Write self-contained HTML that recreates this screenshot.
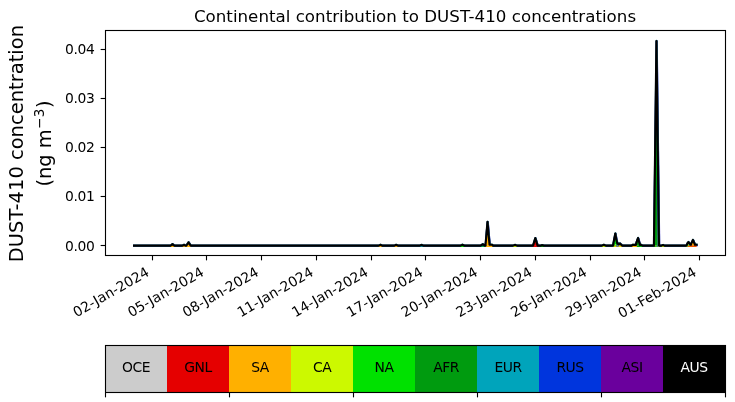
<!DOCTYPE html>
<html><head><meta charset="utf-8"><title>Continental contribution to DUST-410 concentrations</title>
<style>html,body{margin:0;padding:0;background:#fff}svg text{white-space:pre}</style></head>
<body>
<svg width="735" height="402" viewBox="0 0 735 402" style="display:block">
<rect width="735" height="402" fill="#fff"/>
<g font-family="'DejaVu Sans', 'Liberation Sans', sans-serif" fill="#000">
<text x="415.00" y="22.0" font-size="16.67" text-anchor="middle" textLength="442.2" lengthAdjust="spacing">Continental contribution to DUST-410 concentrations</text>
<text transform="translate(23.4,143.60) rotate(-90)" font-size="19.44" text-anchor="middle" textLength="237.15" lengthAdjust="spacing">DUST-410 concentration</text>
<text transform="translate(51.0,143.50) rotate(-90)" font-size="19.44" text-anchor="middle">(ng m<tspan font-size="13.6" dy="-7.5" dx="0.3">−</tspan><tspan font-size="13.6" dx="0.3">3</tspan><tspan dy="7.5" dx="0.5">)</tspan></text>
<g><polyline points="134.05,245.65 170.60,245.65 170.82,245.48 171.11,245.25 171.39,245.03 171.68,244.80 171.96,244.58 172.25,244.35 172.50,244.15 172.53,244.18 172.82,244.40 173.10,244.63 173.39,244.85 173.67,245.08 173.96,245.30 174.24,245.53 174.40,245.65 182.40,245.65 182.51,245.60 182.79,245.45 183.08,245.31 183.36,245.17 183.65,245.03 183.93,244.88 184.00,244.85 184.22,244.96 184.50,245.10 184.79,245.24 185.07,245.39 185.36,245.53 185.60,245.65 186.30,245.65 186.50,245.35 186.78,244.92 187.07,244.50 187.35,244.07 187.64,243.64 187.92,243.21 188.21,242.79 188.49,242.36 188.50,242.35 188.78,242.77 189.06,243.20 189.35,243.62 189.63,244.05 189.92,244.48 190.20,244.91 190.49,245.34 190.70,245.65 378.60,245.65 378.62,245.64 378.91,245.51 379.19,245.39 379.48,245.26 379.76,245.13 380.05,245.01 380.33,244.88 380.40,244.85 380.62,244.95 380.90,245.07 381.19,245.20 381.47,245.33 381.76,245.45 382.04,245.58 382.20,245.65 394.30,245.65 394.58,245.52 394.87,245.40 395.15,245.27 395.44,245.14 395.72,245.02 396.01,244.89 396.10,244.85 396.29,244.94 396.58,245.06 396.86,245.19 397.15,245.32 397.43,245.44 397.72,245.57 397.90,245.65 419.70,245.65 419.95,245.55 420.24,245.44 420.52,245.33 420.81,245.22 421.09,245.11 421.38,245.00 421.50,244.95 421.66,245.01 421.95,245.12 422.23,245.24 422.52,245.35 422.80,245.46 423.09,245.57 423.30,245.65 460.40,245.65 460.43,245.64 460.71,245.51 461.00,245.38 461.29,245.25 461.57,245.12 461.86,245.00 462.14,244.87 462.40,244.75 462.43,244.76 462.71,244.89 463.00,245.02 463.28,245.15 463.57,245.27 463.85,245.40 464.14,245.53 464.40,245.65 480.50,245.65 480.67,245.54 480.95,245.36 481.24,245.18 481.52,245.00 481.81,244.82 482.09,244.64 482.38,244.45 482.66,244.27 482.70,244.25 482.95,244.41 483.23,244.59 483.52,244.77 483.80,244.95 484.09,245.13 484.37,245.32 484.66,245.50 484.90,245.65 485.45,245.65 485.51,244.91 485.80,241.60 486.08,238.29 486.37,234.97 486.65,231.66 486.94,228.35 487.23,225.04 487.50,221.85 487.51,221.97 487.80,225.27 488.08,228.58 488.37,231.89 488.50,233.46 488.65,235.07 488.94,238.12 489.22,241.17 489.50,244.17 489.50,244.23 489.55,244.75 492.00,244.75 492.07,244.81 492.36,245.07 492.64,245.33 492.93,245.58 493.00,245.65 513.00,245.65 513.16,245.59 513.45,245.49 513.73,245.39 514.02,245.29 514.30,245.19 514.59,245.09 514.87,244.99 515.00,244.95 515.16,245.01 515.44,245.11 515.73,245.21 516.01,245.31 516.30,245.41 516.59,245.50 516.87,245.60 517.00,245.65 533.00,245.65 533.12,245.27 533.40,244.34 533.69,243.41 533.97,242.48 534.26,241.55 534.54,240.62 534.83,239.69 535.11,238.76 535.30,238.15 535.40,238.47 535.68,239.40 535.97,240.33 536.25,241.26 536.54,242.19 536.82,243.12 537.11,244.05 537.39,244.98 537.60,245.65 540.40,245.65 540.53,245.61 540.81,245.54 541.10,245.46 541.38,245.38 541.67,245.30 541.95,245.22 542.20,245.15 542.24,245.16 542.52,245.24 542.81,245.32 543.09,245.40 543.38,245.48 543.66,245.56 543.95,245.64 544.00,245.65 601.80,245.65 601.81,245.64 602.10,245.53 602.38,245.42 602.67,245.30 602.95,245.19 603.24,245.07 603.52,244.96 603.80,244.85 603.81,244.85 604.09,244.97 604.38,245.08 604.66,245.20 604.95,245.31 605.24,245.42 605.52,245.54 605.80,245.65 613.00,245.65 613.22,244.56 613.30,244.14 613.50,243.00 613.79,241.38 614.07,239.77 614.10,239.60 614.36,238.31 614.64,236.87 614.93,235.44 615.21,234.00 615.30,233.55 615.50,234.69 615.78,236.34 616.07,237.99 616.30,239.35 616.35,239.57 616.64,240.79 616.92,242.00 617.21,243.22 617.30,243.61 617.49,243.32 617.60,243.15 617.78,243.42 618.00,243.77 618.06,243.81 618.35,243.99 618.63,244.17 618.90,244.34 618.92,244.33 619.20,244.07 619.49,243.82 619.77,243.56 619.90,243.45 620.06,243.59 620.34,243.85 620.63,244.10 620.91,244.36 621.20,244.61 621.48,244.87 621.50,244.88 621.77,245.29 621.80,245.34 622.05,245.50 622.30,245.65 631.60,245.65 631.74,245.53 632.03,245.31 632.31,245.08 632.60,244.85 632.60,244.85 635.80,244.85 636.02,244.09 636.30,243.11 636.59,242.12 636.80,241.40 636.88,241.20 637.16,240.44 637.45,239.68 637.73,238.93 637.80,238.74 638.00,238.05 638.01,238.10 638.30,239.09 638.59,240.07 638.87,241.06 639.15,242.04 639.20,242.20 639.44,242.89 639.73,243.71 640.01,244.54 640.20,245.09 640.30,245.03 640.58,244.87 640.80,244.75 640.87,244.79 641.15,244.95 641.44,245.11 641.72,245.27 642.01,245.43 642.29,245.59 642.40,245.65 653.90,245.65 653.95,242.11 653.98,240.13 654.26,219.94 654.55,196.71 654.60,192.45 654.83,173.39 655.12,150.06 655.40,126.74 655.60,110.61 655.69,103.41 655.97,80.09 656.26,56.76 656.30,53.33 656.45,41.05 656.54,48.66 656.83,71.99 657.11,95.31 657.40,118.63 657.68,141.96 657.80,151.53 657.97,165.28 658.20,184.27 658.25,188.69 658.54,212.01 658.82,235.34 658.95,245.53 659.11,245.60 659.20,245.65 661.50,245.65 661.67,245.58 661.96,245.47 662.24,245.35 662.53,245.24 662.81,245.12 663.00,245.05 663.10,245.09 663.38,245.20 663.67,245.32 663.96,245.43 664.24,245.55 664.50,245.65 686.30,245.65 686.47,245.43 686.50,245.39 686.76,244.83 687.04,244.21 687.33,243.58 687.50,243.21 687.61,243.06 687.90,242.69 688.18,242.33 688.40,242.05 688.47,242.14 688.75,242.51 689.04,242.87 689.32,243.24 689.61,243.60 689.89,243.97 690.18,244.34 690.46,244.70 690.50,244.75 690.80,244.75 691.03,244.22 691.32,243.56 691.60,242.91 691.89,242.26 692.17,241.61 692.46,240.96 692.74,240.31 692.90,239.95 693.03,240.24 693.31,240.90 693.60,241.55 693.88,242.20 694.17,242.85 694.46,243.50 694.74,244.16 695.00,244.75 696.45,244.75" fill="none" stroke="#3010d0" stroke-width="2.2" stroke-linejoin="round" stroke-linecap="square" transform="translate(0.25,0.3)"/>
<polyline points="134.05,245.65 170.60,245.65 170.82,245.48 171.11,245.25 171.39,245.03 171.68,244.80 171.96,244.58 172.25,244.35 172.50,244.15 172.53,244.18 172.82,244.40 173.10,244.63 173.39,244.85 173.67,245.08 173.96,245.30 174.24,245.53 174.40,245.65 182.40,245.65 182.51,245.60 182.79,245.45 183.08,245.31 183.36,245.17 183.65,245.03 183.93,244.88 184.00,244.85 184.22,244.96 184.50,245.10 184.79,245.24 185.07,245.39 185.36,245.53 185.60,245.65 186.30,245.65 186.50,245.35 186.78,244.92 187.07,244.50 187.35,244.07 187.64,243.64 187.92,243.21 188.21,242.79 188.49,242.36 188.50,242.35 188.78,242.77 189.06,243.20 189.35,243.62 189.63,244.05 189.92,244.48 190.20,244.91 190.49,245.34 190.70,245.65 378.60,245.65 378.62,245.64 378.91,245.51 379.19,245.39 379.48,245.26 379.76,245.13 380.05,245.01 380.33,244.88 380.40,244.85 380.62,244.95 380.90,245.07 381.19,245.20 381.47,245.33 381.76,245.45 382.04,245.58 382.20,245.65 394.30,245.65 394.58,245.52 394.87,245.40 395.15,245.27 395.44,245.14 395.72,245.02 396.01,244.89 396.10,244.85 396.29,244.94 396.58,245.06 396.86,245.19 397.15,245.32 397.43,245.44 397.72,245.57 397.90,245.65 419.70,245.65 419.95,245.55 420.24,245.44 420.52,245.33 420.81,245.22 421.09,245.11 421.38,245.00 421.50,244.95 421.66,245.01 421.95,245.12 422.23,245.24 422.52,245.35 422.80,245.46 423.09,245.57 423.30,245.65 460.40,245.65 460.43,245.64 460.71,245.51 461.00,245.38 461.29,245.25 461.57,245.12 461.86,245.00 462.14,244.87 462.40,244.75 462.43,244.76 462.71,244.89 463.00,245.02 463.28,245.15 463.57,245.27 463.85,245.40 464.14,245.53 464.40,245.65 480.50,245.65 480.67,245.54 480.95,245.36 481.24,245.18 481.52,245.00 481.81,244.82 482.09,244.64 482.38,244.45 482.66,244.27 482.70,244.25 482.95,244.41 483.23,244.59 483.52,244.77 483.80,244.95 484.09,245.13 484.37,245.32 484.66,245.50 484.90,245.65 485.45,245.65 485.51,244.91 485.80,241.60 486.08,238.29 486.37,234.97 486.65,231.66 486.94,228.35 487.23,225.04 487.50,221.85 487.51,221.97 487.80,225.27 488.08,228.58 488.37,231.89 488.50,233.46 488.65,235.07 488.94,238.12 489.22,241.17 489.50,244.17 489.50,244.23 489.55,244.75 492.00,244.75 492.07,244.81 492.36,245.07 492.64,245.33 492.93,245.58 493.00,245.65 513.00,245.65 513.16,245.59 513.45,245.49 513.73,245.39 514.02,245.29 514.30,245.19 514.59,245.09 514.87,244.99 515.00,244.95 515.16,245.01 515.44,245.11 515.73,245.21 516.01,245.31 516.30,245.41 516.59,245.50 516.87,245.60 517.00,245.65 533.00,245.65 533.12,245.27 533.40,244.34 533.69,243.41 533.97,242.48 534.26,241.55 534.54,240.62 534.83,239.69 535.11,238.76 535.30,238.15 535.40,238.47 535.68,239.40 535.97,240.33 536.25,241.26 536.54,242.19 536.82,243.12 537.11,244.05 537.39,244.98 537.60,245.65 540.40,245.65 540.53,245.61 540.81,245.54 541.10,245.46 541.38,245.38 541.67,245.30 541.95,245.22 542.20,245.15 542.24,245.16 542.52,245.24 542.81,245.32 543.09,245.40 543.38,245.48 543.66,245.56 543.95,245.64 544.00,245.65 601.80,245.65 601.81,245.64 602.10,245.53 602.38,245.42 602.67,245.30 602.95,245.19 603.24,245.07 603.52,244.96 603.80,244.85 603.81,244.85 604.09,244.97 604.38,245.08 604.66,245.20 604.95,245.31 605.24,245.42 605.52,245.54 605.80,245.65 613.00,245.65 613.22,244.56 613.30,244.14 613.50,243.00 613.79,241.38 614.07,239.77 614.10,239.60 614.36,238.31 614.64,236.87 614.93,235.44 615.21,234.00 615.30,233.55 615.50,234.69 615.78,236.34 616.07,237.99 616.30,239.35 616.35,239.57 616.64,240.79 616.92,242.00 617.21,243.22 617.30,243.61 617.49,243.32 617.60,243.15 617.78,243.42 618.00,243.77 618.06,243.81 618.35,243.99 618.63,244.17 618.90,244.34 618.92,244.33 619.20,244.07 619.49,243.82 619.77,243.56 619.90,243.45 620.06,243.59 620.34,243.85 620.63,244.10 620.91,244.36 621.20,244.61 621.48,244.87 621.50,244.88 621.77,245.29 621.80,245.34 622.05,245.50 622.30,245.65 631.60,245.65 631.74,245.53 632.03,245.31 632.31,245.08 632.60,244.85 632.60,244.85 635.80,244.85 636.02,244.09 636.30,243.11 636.59,242.12 636.80,241.40 636.88,241.20 637.16,240.44 637.45,239.68 637.73,238.93 637.80,238.74 638.00,238.05 638.01,238.10 638.30,239.09 638.59,240.07 638.87,241.06 639.15,242.04 639.20,242.20 639.44,242.89 639.73,243.71 640.01,244.54 640.20,245.09 640.30,245.03 640.58,244.87 640.80,244.75 640.87,244.79 641.15,244.95 641.44,245.11 641.72,245.27 642.01,245.43 642.29,245.59 642.40,245.65 653.90,245.65 653.95,242.11 653.98,240.13 654.26,219.94 654.55,196.71 654.60,192.45 654.83,173.39 655.12,150.06 655.40,126.74 655.60,110.61 655.69,103.41 655.97,80.09 656.26,56.76 656.30,53.33 656.45,41.05 656.54,48.66 656.83,71.99 657.11,95.31 657.40,118.63 657.68,141.96 657.80,151.53 657.97,165.28 658.20,184.27 658.25,188.69 658.54,212.01 658.82,235.34 658.95,245.53 659.11,245.60 659.20,245.65 661.50,245.65 661.67,245.58 661.96,245.47 662.24,245.35 662.53,245.24 662.81,245.12 663.00,245.05 663.10,245.09 663.38,245.20 663.67,245.32 663.96,245.43 664.24,245.55 664.50,245.65 686.30,245.65 686.47,245.43 686.50,245.39 686.76,244.83 687.04,244.21 687.33,243.58 687.50,243.21 687.61,243.06 687.90,242.69 688.18,242.33 688.40,242.05 688.47,242.14 688.75,242.51 689.04,242.87 689.32,243.24 689.61,243.60 689.89,243.97 690.18,244.34 690.46,244.70 690.50,244.75 690.80,244.75 691.03,244.22 691.32,243.56 691.60,242.91 691.89,242.26 692.17,241.61 692.46,240.96 692.74,240.31 692.90,239.95 693.03,240.24 693.31,240.90 693.60,241.55 693.88,242.20 694.17,242.85 694.46,243.50 694.74,244.16 695.00,244.75 696.45,244.75" fill="none" stroke="#28808c" stroke-width="2.2" stroke-linejoin="round" stroke-linecap="square" transform="translate(0.15,-0.12)"/>
<polygon points="533.00,245.65 533.12,245.27 533.40,244.34 533.69,243.41 533.97,242.48 534.26,241.55 534.54,240.62 534.83,239.69 535.11,238.76 535.30,238.15 535.40,238.47 535.68,239.40 535.97,240.33 536.25,241.26 536.54,242.19 536.82,243.12 537.11,244.05 537.39,244.98 537.60,245.65 537.60,245.65 537.39,245.65 537.11,245.65 536.82,245.65 536.54,245.65 536.25,245.65 535.97,245.65 535.68,245.65 535.40,245.65 535.30,245.65 535.11,245.65 534.83,245.65 534.54,245.65 534.26,245.65 533.97,245.65 533.69,245.65 533.40,245.65 533.12,245.65 533.00,245.65" fill="#e50000"/>
<polygon points="686.50,245.65 686.76,245.55 687.04,245.43 687.33,245.32 687.50,245.25 687.61,245.25 687.90,245.25 688.18,245.25 688.40,245.25 688.47,245.25 688.75,245.25 689.04,245.25 689.32,245.25 689.61,245.25 689.89,245.25 690.18,245.25 690.46,245.25 690.50,245.25 690.75,245.25 690.80,245.25 691.03,245.25 691.32,245.25 691.60,245.25 691.89,245.25 692.17,245.25 692.46,245.25 692.74,245.25 692.90,245.25 693.03,245.25 693.31,245.25 693.60,245.25 693.88,245.25 694.17,245.25 694.46,245.25 694.74,245.25 695.00,245.25 695.02,245.25 695.31,245.25 695.60,245.25 695.88,245.25 696.16,245.25 696.45,245.25 696.45,245.65 696.16,245.65 695.88,245.65 695.60,245.65 695.31,245.65 695.02,245.65 695.00,245.65 694.74,245.65 694.46,245.65 694.17,245.65 693.88,245.65 693.60,245.65 693.31,245.65 693.03,245.65 692.90,245.65 692.74,245.65 692.46,245.65 692.17,245.65 691.89,245.65 691.60,245.65 691.32,245.65 691.03,245.65 690.80,245.65 690.75,245.65 690.50,245.65 690.46,245.65 690.18,245.65 689.89,245.65 689.61,245.65 689.32,245.65 689.04,245.65 688.75,245.65 688.47,245.65 688.40,245.65 688.18,245.65 687.90,245.65 687.61,245.65 687.50,245.65 687.33,245.65 687.04,245.65 686.76,245.65 686.50,245.65" fill="#e50000"/>
<polygon points="186.30,245.65 186.50,245.35 186.78,244.92 187.07,244.50 187.35,244.07 187.64,243.64 187.92,243.21 188.21,242.79 188.49,242.36 188.50,242.35 188.78,242.77 189.06,243.20 189.35,243.62 189.63,244.05 189.92,244.48 190.20,244.91 190.49,245.34 190.70,245.65 190.70,245.65 190.49,245.65 190.20,245.65 189.92,245.65 189.63,245.65 189.35,245.65 189.06,245.65 188.78,245.65 188.50,245.65 188.49,245.65 188.21,245.65 187.92,245.65 187.64,245.65 187.35,245.65 187.07,245.65 186.78,245.65 186.50,245.65 186.30,245.65" fill="#ffb000"/>
<polygon points="485.45,245.65 485.51,245.21 485.80,243.27 486.08,241.32 486.37,239.37 486.65,237.42 486.94,235.47 487.23,233.53 487.50,231.65 487.51,231.72 487.80,233.66 488.08,235.61 488.37,237.56 488.50,238.48 488.65,239.37 488.94,241.06 489.22,242.75 489.50,244.41 489.50,244.44 489.55,244.75 489.79,244.75 490.07,244.75 490.36,244.75 490.64,244.75 490.93,244.75 491.21,244.75 491.50,244.75 491.79,244.75 492.00,244.75 492.07,244.81 492.36,245.07 492.64,245.33 492.93,245.58 493.00,245.65 493.00,245.65 492.93,245.65 492.64,245.65 492.36,245.65 492.07,245.65 492.00,245.65 491.79,245.65 491.50,245.65 491.21,245.65 490.93,245.65 490.64,245.65 490.36,245.65 490.07,245.65 489.79,245.65 489.55,245.65 489.50,245.65 489.50,245.65 489.22,245.65 488.94,245.65 488.65,245.65 488.50,245.65 488.37,245.65 488.08,245.65 487.80,245.65 487.51,245.65 487.50,245.65 487.23,245.65 486.94,245.65 486.65,245.65 486.37,245.65 486.08,245.65 485.80,245.65 485.51,245.65 485.45,245.65" fill="#ffb000"/>
<polygon points="613.00,245.65 613.22,245.62 613.30,245.61 613.50,245.46 613.79,245.24 614.07,245.03 614.10,245.01 614.36,244.97 614.64,244.94 614.93,244.90 615.21,244.86 615.30,244.85 615.50,244.88 615.78,244.92 616.07,244.96 616.30,245.00 616.35,245.01 616.64,245.05 616.92,245.09 617.21,245.14 617.30,245.15 617.49,245.15 617.60,245.15 617.78,245.15 618.00,245.15 618.06,245.15 618.35,245.15 618.63,245.15 618.90,245.15 618.92,245.15 619.20,245.15 619.49,245.15 619.77,245.15 619.90,245.15 620.06,245.15 620.34,245.15 620.63,245.15 620.91,245.15 621.20,245.15 621.48,245.15 621.50,245.15 621.77,245.32 621.80,245.34 622.05,245.50 622.30,245.65 622.30,245.65 622.05,245.65 621.80,245.65 621.77,245.65 621.50,245.65 621.48,245.65 621.20,245.65 620.91,245.65 620.63,245.65 620.34,245.65 620.06,245.65 619.90,245.65 619.77,245.65 619.49,245.65 619.20,245.65 618.92,245.65 618.90,245.65 618.63,245.65 618.35,245.65 618.06,245.65 618.00,245.65 617.78,245.65 617.60,245.65 617.49,245.65 617.30,245.65 617.21,245.65 616.92,245.65 616.64,245.65 616.35,245.65 616.30,245.65 616.07,245.65 615.78,245.65 615.50,245.65 615.30,245.65 615.21,245.65 614.93,245.65 614.64,245.65 614.36,245.65 614.10,245.65 614.07,245.65 613.79,245.65 613.50,245.65 613.30,245.65 613.22,245.65 613.00,245.65" fill="#ffb000"/>
<polygon points="631.60,245.65 631.74,245.53 632.03,245.31 632.31,245.08 632.60,244.85 632.60,244.85 632.88,244.85 633.17,244.85 633.45,244.85 633.74,244.85 634.02,244.85 634.31,244.85 634.60,244.85 634.88,244.85 635.16,244.85 635.45,244.85 635.74,244.85 635.80,244.85 636.02,244.85 636.30,244.85 636.59,244.85 636.80,244.85 636.88,244.91 637.16,245.14 637.45,245.37 637.73,245.59 637.80,245.65 637.80,245.65 637.73,245.65 637.45,245.65 637.16,245.65 636.88,245.65 636.80,245.65 636.59,245.65 636.30,245.65 636.02,245.65 635.80,245.65 635.74,245.65 635.45,245.65 635.16,245.65 634.88,245.65 634.60,245.65 634.31,245.65 634.02,245.65 633.74,245.65 633.45,245.65 633.17,245.65 632.88,245.65 632.60,245.65 632.60,245.65 632.31,245.65 632.03,245.65 631.74,245.65 631.60,245.65" fill="#ffb000"/>
<polygon points="686.50,245.65 686.76,245.42 687.04,245.16 687.33,244.90 687.50,244.75 687.61,244.75 687.90,244.75 688.18,244.75 688.40,244.75 688.47,244.75 688.75,244.75 689.04,244.75 689.32,244.75 689.61,244.75 689.89,244.75 690.18,244.75 690.46,244.75 690.50,244.75 690.75,244.75 690.80,244.75 691.03,244.37 691.32,243.91 691.60,243.45 691.89,242.99 692.17,242.53 692.46,242.06 692.74,241.60 692.90,241.35 693.03,241.56 693.31,242.02 693.60,242.48 693.88,242.94 694.17,243.41 694.46,243.87 694.74,244.33 695.00,244.75 695.02,244.75 695.31,244.75 695.60,244.75 695.88,244.75 696.16,244.75 696.45,244.75 696.45,245.25 696.16,245.25 695.88,245.25 695.60,245.25 695.31,245.25 695.02,245.25 695.00,245.25 694.74,245.25 694.46,245.25 694.17,245.25 693.88,245.25 693.60,245.25 693.31,245.25 693.03,245.25 692.90,245.25 692.74,245.25 692.46,245.25 692.17,245.25 691.89,245.25 691.60,245.25 691.32,245.25 691.03,245.25 690.80,245.25 690.75,245.25 690.50,245.25 690.46,245.25 690.18,245.25 689.89,245.25 689.61,245.25 689.32,245.25 689.04,245.25 688.75,245.25 688.47,245.25 688.40,245.25 688.18,245.25 687.90,245.25 687.61,245.25 687.50,245.25 687.33,245.32 687.04,245.43 686.76,245.55 686.50,245.65" fill="#ffb000"/>
<polygon points="613.00,245.65 613.22,245.57 613.30,245.55 613.50,245.35 613.79,245.07 614.07,244.80 614.10,244.77 614.36,244.68 614.64,244.58 614.93,244.48 615.21,244.38 615.30,244.35 615.50,244.43 615.78,244.54 616.07,244.66 616.30,244.75 616.35,244.77 616.64,244.88 616.92,245.00 617.21,245.11 617.30,245.15 617.30,245.15 617.21,245.14 616.92,245.09 616.64,245.05 616.35,245.01 616.30,245.00 616.07,244.96 615.78,244.92 615.50,244.88 615.30,244.85 615.21,244.86 614.93,244.90 614.64,244.94 614.36,244.97 614.10,245.01 614.07,245.03 613.79,245.24 613.50,245.46 613.30,245.61 613.22,245.62 613.00,245.65" fill="#ccf900"/>
<polygon points="654.60,245.65 654.83,245.53 655.12,245.39 655.40,245.25 655.60,245.15 655.69,245.15 655.97,245.15 656.26,245.15 656.30,245.15 656.45,245.15 656.54,245.15 656.83,245.15 657.11,245.15 657.40,245.15 657.68,245.15 657.80,245.15 657.97,245.15 658.20,245.15 658.25,245.18 658.54,245.32 658.82,245.46 658.95,245.53 659.11,245.60 659.20,245.65 659.20,245.65 659.11,245.65 658.95,245.65 658.82,245.65 658.54,245.65 658.25,245.65 658.20,245.65 657.97,245.65 657.80,245.65 657.68,245.65 657.40,245.65 657.11,245.65 656.83,245.65 656.54,245.65 656.45,245.65 656.30,245.65 656.26,245.65 655.97,245.65 655.69,245.65 655.60,245.65 655.40,245.65 655.12,245.65 654.83,245.65 654.60,245.65" fill="#ccf900"/>
<polygon points="686.30,245.65 686.47,245.60 686.50,245.59 686.76,245.29 687.04,244.95 687.33,244.61 687.50,244.41 687.61,244.37 687.90,244.29 688.18,244.21 688.40,244.15 688.47,244.17 688.75,244.25 689.04,244.33 689.32,244.41 689.61,244.50 689.89,244.58 690.18,244.66 690.46,244.74 690.50,244.75 690.50,244.75 690.46,244.75 690.18,244.75 689.89,244.75 689.61,244.75 689.32,244.75 689.04,244.75 688.75,244.75 688.47,244.75 688.40,244.75 688.18,244.75 687.90,244.75 687.61,244.75 687.50,244.75 687.33,244.90 687.04,245.16 686.76,245.42 686.50,245.65 686.47,245.65 686.30,245.65" fill="#ccf900"/>
<polygon points="613.00,245.65 613.22,244.98 613.30,244.72 613.50,243.98 613.79,242.92 614.07,241.86 614.10,241.75 614.36,240.96 614.64,240.08 614.93,239.20 615.21,238.32 615.30,238.05 615.50,238.75 615.78,239.76 616.07,240.77 616.30,241.60 616.35,241.78 616.64,242.80 616.92,243.81 617.21,244.82 617.30,245.15 617.30,245.15 617.21,245.11 616.92,245.00 616.64,244.88 616.35,244.77 616.30,244.75 616.07,244.66 615.78,244.54 615.50,244.43 615.30,244.35 615.21,244.38 614.93,244.48 614.64,244.58 614.36,244.68 614.10,244.77 614.07,244.80 613.79,245.07 613.50,245.35 613.30,245.55 613.22,245.57 613.00,245.65" fill="#00e100"/>
<polygon points="639.20,245.65 639.44,245.51 639.73,245.35 640.01,245.19 640.20,245.09 640.30,245.03 640.58,244.87 640.80,244.75 640.87,244.79 641.15,244.95 641.44,245.11 641.72,245.27 642.01,245.43 642.29,245.59 642.40,245.65 642.40,245.65 642.29,245.65 642.01,245.65 641.72,245.65 641.44,245.65 641.15,245.65 640.87,245.65 640.80,245.65 640.58,245.65 640.30,245.65 640.20,245.65 640.01,245.65 639.73,245.65 639.44,245.65 639.20,245.65" fill="#00e100"/>
<polygon points="686.30,245.65 686.47,245.50 686.50,245.48 686.76,245.03 687.04,244.52 687.33,244.02 687.50,243.72 687.61,243.62 687.90,243.38 688.18,243.14 688.40,242.95 688.47,243.01 688.75,243.25 689.04,243.50 689.32,243.74 689.61,243.99 689.89,244.23 690.18,244.47 690.46,244.72 690.50,244.75 690.50,244.75 690.46,244.74 690.18,244.66 689.89,244.58 689.61,244.50 689.32,244.41 689.04,244.33 688.75,244.25 688.47,244.17 688.40,244.15 688.18,244.21 687.90,244.29 687.61,244.37 687.50,244.41 687.33,244.61 687.04,244.95 686.76,245.29 686.50,245.59 686.47,245.60 686.30,245.65" fill="#00e100"/>
<polygon points="635.80,244.85 636.02,244.29 636.30,243.56 636.59,242.84 636.80,242.30 636.88,242.17 637.16,241.68 637.45,241.18 637.73,240.68 637.80,240.56 638.00,240.05 638.01,240.09 638.30,240.81 638.59,241.54 638.87,242.26 639.15,242.99 639.20,243.10 639.44,243.58 639.73,244.15 640.01,244.71 640.20,245.09 640.20,245.09 640.01,245.19 639.73,245.35 639.44,245.51 639.20,245.65 639.15,245.65 638.87,245.65 638.59,245.65 638.30,245.65 638.01,245.65 638.00,245.65 637.80,245.65 637.73,245.59 637.45,245.37 637.16,245.14 636.88,244.91 636.80,244.85 636.59,244.85 636.30,244.85 636.02,244.85 635.80,244.85" fill="#009b0f"/>
<polygon points="653.90,245.65 653.95,242.11 653.98,240.13 654.26,219.94 654.55,199.75 654.60,196.07 654.83,179.45 655.12,159.12 655.40,138.79 655.60,124.73 655.69,118.50 655.97,98.31 656.26,78.12 656.30,75.15 656.45,92.15 656.54,102.69 656.83,134.99 657.11,167.29 657.40,199.59 657.68,231.89 657.80,245.15 657.80,245.15 657.68,245.15 657.40,245.15 657.11,245.15 656.83,245.15 656.54,245.15 656.45,245.15 656.30,245.15 656.26,245.15 655.97,245.15 655.69,245.15 655.60,245.15 655.40,245.25 655.12,245.39 654.83,245.53 654.60,245.65 654.55,245.65 654.26,245.65 653.98,245.65 653.95,245.65 653.90,245.65" fill="#009b0f"/>
<polygon points="485.45,245.65 485.51,244.91 485.80,241.60 486.08,238.29 486.37,234.97 486.65,231.66 486.94,228.35 487.23,225.04 487.50,221.85 487.51,221.97 487.80,225.27 488.08,228.58 488.37,231.89 488.50,233.46 488.65,235.07 488.94,238.12 489.22,241.17 489.50,244.17 489.50,244.23 489.55,244.75 489.55,244.75 489.50,244.44 489.50,244.41 489.22,242.75 488.94,241.06 488.65,239.37 488.50,238.48 488.37,237.56 488.08,235.61 487.80,233.66 487.51,231.72 487.50,231.65 487.23,233.53 486.94,235.47 486.65,237.42 486.37,239.37 486.08,241.32 485.80,243.27 485.51,245.21 485.45,245.65" fill="#0035dd"/>
<polygon points="613.00,245.65 613.22,244.56 613.30,244.14 613.50,243.00 613.79,241.38 614.07,239.77 614.10,239.60 614.36,238.31 614.64,236.87 614.93,235.44 615.21,234.00 615.30,233.55 615.50,234.69 615.78,236.34 616.07,237.99 616.30,239.35 616.35,239.57 616.64,240.79 616.92,242.00 617.21,243.22 617.30,243.61 617.49,243.32 617.60,243.15 617.78,243.42 618.00,243.77 618.06,243.81 618.35,243.99 618.63,244.17 618.90,244.34 618.90,244.34 618.63,244.58 618.35,244.84 618.06,245.09 618.00,245.15 617.78,245.15 617.60,245.15 617.49,245.15 617.30,245.15 617.21,244.82 616.92,243.81 616.64,242.80 616.35,241.78 616.30,241.60 616.07,240.77 615.78,239.76 615.50,238.75 615.30,238.05 615.21,238.32 614.93,239.20 614.64,240.08 614.36,240.96 614.10,241.75 614.07,241.86 613.79,242.92 613.50,243.98 613.30,244.72 613.22,244.98 613.00,245.65" fill="#0035dd"/>
<polygon points="635.80,244.85 636.02,244.09 636.30,243.11 636.59,242.12 636.80,241.40 636.88,241.20 637.16,240.44 637.45,239.68 637.73,238.93 637.80,238.74 638.00,238.05 638.01,238.10 638.30,239.09 638.59,240.07 638.87,241.06 639.15,242.04 639.20,242.20 639.44,242.89 639.73,243.71 640.01,244.54 640.20,245.09 640.20,245.09 640.01,244.71 639.73,244.15 639.44,243.58 639.20,243.10 639.15,242.99 638.87,242.26 638.59,241.54 638.30,240.81 638.01,240.09 638.00,240.05 637.80,240.56 637.73,240.68 637.45,241.18 637.16,241.68 636.88,242.17 636.80,242.30 636.59,242.84 636.30,243.56 636.02,244.29 635.80,244.85" fill="#0035dd"/>
<polygon points="654.26,219.94 654.55,196.71 654.60,192.45 654.83,173.39 655.12,150.06 655.40,126.74 655.60,110.61 655.69,103.41 655.97,80.09 656.26,56.76 656.30,53.33 656.45,41.05 656.54,48.66 656.83,71.99 657.11,95.31 657.40,118.63 657.68,141.96 657.80,151.53 657.97,165.28 658.20,184.27 658.25,188.69 658.54,212.01 658.82,235.34 658.95,245.53 658.95,245.53 658.82,245.46 658.54,245.32 658.25,245.18 658.20,245.15 657.97,245.15 657.80,245.15 657.68,231.89 657.40,199.59 657.11,167.29 656.83,134.99 656.54,102.69 656.45,92.15 656.30,75.15 656.26,78.12 655.97,98.31 655.69,118.50 655.60,124.73 655.40,138.79 655.12,159.12 654.83,179.45 654.60,196.07 654.55,199.75 654.26,219.94" fill="#0035dd"/>
<polygon points="686.30,245.65 686.47,245.43 686.50,245.39 686.76,244.83 687.04,244.21 687.33,243.58 687.50,243.21 687.61,243.06 687.90,242.69 688.18,242.33 688.40,242.05 688.47,242.14 688.75,242.51 689.04,242.87 689.32,243.24 689.61,243.60 689.89,243.97 690.18,244.34 690.46,244.70 690.50,244.75 690.50,244.75 690.46,244.72 690.18,244.47 689.89,244.23 689.61,243.99 689.32,243.74 689.04,243.50 688.75,243.25 688.47,243.01 688.40,242.95 688.18,243.14 687.90,243.38 687.61,243.62 687.50,243.72 687.33,244.02 687.04,244.52 686.76,245.03 686.50,245.48 686.47,245.50 686.30,245.65" fill="#0035dd"/>
<polygon points="690.80,244.75 691.03,244.22 691.32,243.56 691.60,242.91 691.89,242.26 692.17,241.61 692.46,240.96 692.74,240.31 692.90,239.95 693.03,240.24 693.31,240.90 693.60,241.55 693.88,242.20 694.17,242.85 694.46,243.50 694.74,244.16 695.00,244.75 695.00,244.75 694.74,244.33 694.46,243.87 694.17,243.41 693.88,242.94 693.60,242.48 693.31,242.02 693.03,241.56 692.90,241.35 692.74,241.60 692.46,242.06 692.17,242.53 691.89,242.99 691.60,243.45 691.32,243.91 691.03,244.37 690.80,244.75" fill="#0035dd"/>
<clipPath id="below"><rect x="0" y="245.4" width="735" height="10"/></clipPath>
<g clip-path="url(#below)"><polyline points="537.60,245.65 537.39,245.65 537.11,245.65 536.82,245.65 536.54,245.65 536.25,245.65 535.97,245.65 535.68,245.65 535.40,245.65 535.30,245.65 535.11,245.65 534.83,245.65 534.54,245.65 534.26,245.65 533.97,245.65 533.69,245.65 533.40,245.65 533.12,245.65 533.00,245.65" fill="none" stroke="#e50000" stroke-width="2.5"/><polyline points="696.45,245.65 696.16,245.65 695.88,245.65 695.60,245.65 695.31,245.65 695.02,245.65 695.00,245.65 694.74,245.65 694.46,245.65 694.17,245.65 693.88,245.65 693.60,245.65 693.31,245.65 693.03,245.65 692.90,245.65 692.74,245.65 692.46,245.65 692.17,245.65 691.89,245.65 691.60,245.65 691.32,245.65 691.03,245.65 690.80,245.65 690.75,245.65 690.50,245.65 690.46,245.65 690.18,245.65 689.89,245.65 689.61,245.65 689.32,245.65 689.04,245.65 688.75,245.65 688.47,245.65 688.40,245.65 688.18,245.65 687.90,245.65 687.61,245.65 687.50,245.65 687.33,245.65 687.04,245.65 686.76,245.65 686.50,245.65" fill="none" stroke="#e50000" stroke-width="2.5"/><polyline points="174.40,245.65 174.24,245.65 173.96,245.65 173.67,245.65 173.39,245.65 173.10,245.65 172.82,245.65 172.53,245.65 172.50,245.65 172.25,245.65 171.96,245.65 171.68,245.65 171.39,245.65 171.11,245.65 170.82,245.65 170.60,245.65" fill="none" stroke="#ffb000" stroke-width="2.5"/><polyline points="185.60,245.65 185.36,245.65 185.07,245.65 184.79,245.65 184.50,245.65 184.22,245.65 184.00,245.65 183.93,245.65 183.65,245.65 183.36,245.65 183.08,245.65 182.79,245.65 182.51,245.65 182.40,245.65" fill="none" stroke="#ffb000" stroke-width="2.5"/><polyline points="190.70,245.65 190.49,245.65 190.20,245.65 189.92,245.65 189.63,245.65 189.35,245.65 189.06,245.65 188.78,245.65 188.50,245.65 188.49,245.65 188.21,245.65 187.92,245.65 187.64,245.65 187.35,245.65 187.07,245.65 186.78,245.65 186.50,245.65 186.30,245.65" fill="none" stroke="#ffb000" stroke-width="2.5"/><polyline points="382.20,245.65 382.04,245.65 381.76,245.65 381.47,245.65 381.19,245.65 380.90,245.65 380.62,245.65 380.40,245.65 380.33,245.65 380.05,245.65 379.76,245.65 379.48,245.65 379.19,245.65 378.91,245.65 378.62,245.65 378.60,245.65" fill="none" stroke="#ffb000" stroke-width="2.5"/><polyline points="397.90,245.65 397.72,245.65 397.43,245.65 397.15,245.65 396.86,245.65 396.58,245.65 396.29,245.65 396.10,245.65 396.01,245.65 395.72,245.65 395.44,245.65 395.15,245.65 394.87,245.65 394.58,245.65 394.30,245.65" fill="none" stroke="#ffb000" stroke-width="2.5"/><polyline points="493.00,245.65 492.93,245.65 492.64,245.65 492.36,245.65 492.07,245.65 492.00,245.65 491.79,245.65 491.50,245.65 491.21,245.65 490.93,245.65 490.64,245.65 490.36,245.65 490.07,245.65 489.79,245.65 489.55,245.65 489.50,245.65 489.50,245.65 489.22,245.65 488.94,245.65 488.65,245.65 488.50,245.65 488.37,245.65 488.08,245.65 487.80,245.65 487.51,245.65 487.50,245.65 487.23,245.65 486.94,245.65 486.65,245.65 486.37,245.65 486.08,245.65 485.80,245.65 485.51,245.65 485.45,245.65" fill="none" stroke="#ffb000" stroke-width="2.5"/><polyline points="622.30,245.65 622.05,245.65 621.80,245.65 621.77,245.65 621.50,245.65 621.48,245.65 621.20,245.65 620.91,245.65 620.63,245.65 620.34,245.65 620.06,245.65 619.90,245.65 619.77,245.65 619.49,245.65 619.20,245.65 618.92,245.65 618.90,245.65 618.63,245.65 618.35,245.65 618.06,245.65 618.00,245.65 617.78,245.65 617.60,245.65 617.49,245.65 617.30,245.65 617.21,245.65 616.92,245.65 616.64,245.65 616.35,245.65 616.30,245.65 616.07,245.65 615.78,245.65 615.50,245.65 615.30,245.65 615.21,245.65 614.93,245.65 614.64,245.65 614.36,245.65 614.10,245.65 614.07,245.65 613.79,245.65 613.50,245.65 613.30,245.65 613.22,245.65 613.00,245.65" fill="none" stroke="#ffb000" stroke-width="2.5"/><polyline points="637.80,245.65 637.73,245.65 637.45,245.65 637.16,245.65 636.88,245.65 636.80,245.65 636.59,245.65 636.30,245.65 636.02,245.65 635.80,245.65 635.74,245.65 635.45,245.65 635.16,245.65 634.88,245.65 634.60,245.65 634.31,245.65 634.02,245.65 633.74,245.65 633.45,245.65 633.17,245.65 632.88,245.65 632.60,245.65 632.60,245.65 632.31,245.65 632.03,245.65 631.74,245.65 631.60,245.65" fill="none" stroke="#ffb000" stroke-width="2.5"/><polyline points="696.45,245.25 696.16,245.25 695.88,245.25 695.60,245.25 695.31,245.25 695.02,245.25 695.00,245.25 694.74,245.25 694.46,245.25 694.17,245.25 693.88,245.25 693.60,245.25 693.31,245.25 693.03,245.25 692.90,245.25 692.74,245.25 692.46,245.25 692.17,245.25 691.89,245.25 691.60,245.25 691.32,245.25 691.03,245.25 690.80,245.25 690.75,245.25 690.50,245.25 690.46,245.25 690.18,245.25 689.89,245.25 689.61,245.25 689.32,245.25 689.04,245.25 688.75,245.25 688.47,245.25 688.40,245.25 688.18,245.25 687.90,245.25 687.61,245.25 687.50,245.25 687.33,245.32 687.04,245.43 686.76,245.55 686.50,245.65" fill="none" stroke="#ffb000" stroke-width="2.5"/><polyline points="517.00,245.65 516.87,245.65 516.59,245.65 516.30,245.65 516.01,245.65 515.73,245.65 515.44,245.65 515.16,245.65 515.00,245.65 514.87,245.65 514.59,245.65 514.30,245.65 514.02,245.65 513.73,245.65 513.45,245.65 513.16,245.65 513.00,245.65" fill="none" stroke="#ccf900" stroke-width="2.5"/><polyline points="605.80,245.65 605.52,245.65 605.24,245.65 604.95,245.65 604.66,245.65 604.38,245.65 604.09,245.65 603.81,245.65 603.80,245.65 603.52,245.65 603.24,245.65 602.95,245.65 602.67,245.65 602.38,245.65 602.10,245.65 601.81,245.65 601.80,245.65" fill="none" stroke="#ccf900" stroke-width="2.5"/><polyline points="617.30,245.15 617.21,245.14 616.92,245.09 616.64,245.05 616.35,245.01 616.30,245.00 616.07,244.96 615.78,244.92 615.50,244.88 615.30,244.85 615.21,244.86 614.93,244.90 614.64,244.94 614.36,244.97 614.10,245.01 614.07,245.03 613.79,245.24 613.50,245.46 613.30,245.61 613.22,245.62 613.00,245.65" fill="none" stroke="#ccf900" stroke-width="2.5"/><polyline points="621.80,245.34 621.77,245.32 621.50,245.15 621.48,245.15 621.20,245.15 620.91,245.15 620.63,245.15 620.34,245.15 620.06,245.15 619.90,245.15 619.77,245.15 619.49,245.15 619.20,245.15 618.92,245.15 618.90,245.15 618.63,245.15 618.35,245.15 618.06,245.15 618.00,245.15" fill="none" stroke="#ccf900" stroke-width="2.5"/><polyline points="659.20,245.65 659.11,245.65 658.95,245.65 658.82,245.65 658.54,245.65 658.25,245.65 658.20,245.65 657.97,245.65 657.80,245.65 657.68,245.65 657.40,245.65 657.11,245.65 656.83,245.65 656.54,245.65 656.45,245.65 656.30,245.65 656.26,245.65 655.97,245.65 655.69,245.65 655.60,245.65 655.40,245.65 655.12,245.65 654.83,245.65 654.60,245.65" fill="none" stroke="#ccf900" stroke-width="2.5"/><polyline points="664.50,245.65 664.24,245.65 663.96,245.65 663.67,245.65 663.38,245.65 663.10,245.65 663.00,245.65 662.81,245.65 662.53,245.65 662.24,245.65 661.96,245.65 661.67,245.65 661.50,245.65" fill="none" stroke="#ccf900" stroke-width="2.5"/><polyline points="690.50,244.75 690.46,244.75 690.18,244.75 689.89,244.75 689.61,244.75 689.32,244.75 689.04,244.75 688.75,244.75 688.47,244.75 688.40,244.75 688.18,244.75 687.90,244.75 687.61,244.75 687.50,244.75 687.33,244.90 687.04,245.16 686.76,245.42 686.50,245.65 686.47,245.65 686.30,245.65" fill="none" stroke="#ccf900" stroke-width="2.5"/><polyline points="464.40,245.65 464.14,245.65 463.85,245.65 463.57,245.65 463.28,245.65 463.00,245.65 462.71,245.65 462.43,245.65 462.40,245.65 462.14,245.65 461.86,245.65 461.57,245.65 461.29,245.65 461.00,245.65 460.71,245.65 460.43,245.65 460.40,245.65" fill="none" stroke="#00e100" stroke-width="2.5"/><polyline points="484.90,245.65 484.66,245.65 484.37,245.65 484.09,245.65 483.80,245.65 483.52,245.65 483.23,245.65 482.95,245.65 482.70,245.65 482.66,245.65 482.38,245.65 482.09,245.65 481.81,245.65 481.52,245.65 481.24,245.65 480.95,245.65 480.67,245.65 480.50,245.65" fill="none" stroke="#00e100" stroke-width="2.5"/><polyline points="617.30,245.15 617.21,245.11 616.92,245.00 616.64,244.88 616.35,244.77 616.30,244.75 616.07,244.66 615.78,244.54 615.50,244.43 615.30,244.35 615.21,244.38 614.93,244.48 614.64,244.58 614.36,244.68 614.10,244.77 614.07,244.80 613.79,245.07 613.50,245.35 613.30,245.55 613.22,245.57 613.00,245.65" fill="none" stroke="#00e100" stroke-width="2.5"/><polyline points="642.40,245.65 642.29,245.65 642.01,245.65 641.72,245.65 641.44,245.65 641.15,245.65 640.87,245.65 640.80,245.65 640.58,245.65 640.30,245.65 640.20,245.65 640.01,245.65 639.73,245.65 639.44,245.65 639.20,245.65" fill="none" stroke="#00e100" stroke-width="2.5"/><polyline points="690.50,244.75 690.46,244.74 690.18,244.66 689.89,244.58 689.61,244.50 689.32,244.41 689.04,244.33 688.75,244.25 688.47,244.17 688.40,244.15 688.18,244.21 687.90,244.29 687.61,244.37 687.50,244.41 687.33,244.61 687.04,244.95 686.76,245.29 686.50,245.59 686.47,245.60 686.30,245.65" fill="none" stroke="#00e100" stroke-width="2.5"/><polyline points="544.00,245.65 543.95,245.65 543.66,245.65 543.38,245.65 543.09,245.65 542.81,245.65 542.52,245.65 542.24,245.65 542.20,245.65 541.95,245.65 541.67,245.65 541.38,245.65 541.10,245.65 540.81,245.65 540.53,245.65 540.40,245.65" fill="none" stroke="#009b0f" stroke-width="2.5"/><polyline points="640.20,245.09 640.01,245.19 639.73,245.35 639.44,245.51 639.20,245.65 639.15,245.65 638.87,245.65 638.59,245.65 638.30,245.65 638.01,245.65 638.00,245.65 637.80,245.65 637.73,245.59 637.45,245.37 637.16,245.14 636.88,244.91 636.80,244.85 636.59,244.85 636.30,244.85 636.02,244.85 635.80,244.85" fill="none" stroke="#009b0f" stroke-width="2.5"/><polyline points="657.80,245.15 657.68,245.15 657.40,245.15 657.11,245.15 656.83,245.15 656.54,245.15 656.45,245.15 656.30,245.15 656.26,245.15 655.97,245.15 655.69,245.15 655.60,245.15 655.40,245.25 655.12,245.39 654.83,245.53 654.60,245.65 654.55,245.65 654.26,245.65 653.98,245.65 653.95,245.65 653.90,245.65" fill="none" stroke="#009b0f" stroke-width="2.5"/><polyline points="423.30,245.65 423.09,245.65 422.80,245.65 422.52,245.65 422.23,245.65 421.95,245.65 421.66,245.65 421.50,245.65 421.38,245.65 421.09,245.65 420.81,245.65 420.52,245.65 420.24,245.65 419.95,245.65 419.70,245.65" fill="none" stroke="#00a4bb" stroke-width="2.5"/><polyline points="484.90,245.65 484.66,245.54 484.37,245.41 484.09,245.28 483.80,245.15 483.52,245.02 483.23,244.89 482.95,244.76 482.70,244.65 482.66,244.67 482.38,244.80 482.09,244.93 481.81,245.05 481.52,245.18 481.24,245.31 480.95,245.44 480.67,245.57 480.50,245.65" fill="none" stroke="#0035dd" stroke-width="2.5"/><polyline points="489.55,244.75 489.50,244.44 489.50,244.41 489.22,242.75 488.94,241.06 488.65,239.37 488.50,238.48 488.37,237.56 488.08,235.61 487.80,233.66 487.51,231.72 487.50,231.65 487.23,233.53 486.94,235.47 486.65,237.42 486.37,239.37 486.08,241.32 485.80,243.27 485.51,245.21 485.45,245.65" fill="none" stroke="#0035dd" stroke-width="2.5"/><polyline points="618.90,244.34 618.63,244.58 618.35,244.84 618.06,245.09 618.00,245.15 617.78,245.15 617.60,245.15 617.49,245.15 617.30,245.15 617.21,244.82 616.92,243.81 616.64,242.80 616.35,241.78 616.30,241.60 616.07,240.77 615.78,239.76 615.50,238.75 615.30,238.05 615.21,238.32 614.93,239.20 614.64,240.08 614.36,240.96 614.10,241.75 614.07,241.86 613.79,242.92 613.50,243.98 613.30,244.72 613.22,244.98 613.00,245.65" fill="none" stroke="#0035dd" stroke-width="2.5"/><polyline points="640.20,245.09 640.01,244.71 639.73,244.15 639.44,243.58 639.20,243.10 639.15,242.99 638.87,242.26 638.59,241.54 638.30,240.81 638.01,240.09 638.00,240.05 637.80,240.56 637.73,240.68 637.45,241.18 637.16,241.68 636.88,242.17 636.80,242.30 636.59,242.84 636.30,243.56 636.02,244.29 635.80,244.85" fill="none" stroke="#0035dd" stroke-width="2.5"/><polyline points="658.95,245.53 658.82,245.46 658.54,245.32 658.25,245.18 658.20,245.15 657.97,245.15 657.80,245.15 657.68,231.89 657.40,199.59 657.11,167.29 656.83,134.99 656.54,102.69 656.45,92.15 656.30,75.15 656.26,78.12 655.97,98.31 655.69,118.50 655.60,124.73 655.40,138.79 655.12,159.12 654.83,179.45 654.60,196.07 654.55,199.75 654.26,219.94" fill="none" stroke="#0035dd" stroke-width="2.5"/><polyline points="690.50,244.75 690.46,244.72 690.18,244.47 689.89,244.23 689.61,243.99 689.32,243.74 689.04,243.50 688.75,243.25 688.47,243.01 688.40,242.95 688.18,243.14 687.90,243.38 687.61,243.62 687.50,243.72 687.33,244.02 687.04,244.52 686.76,245.03 686.50,245.48 686.47,245.50 686.30,245.65" fill="none" stroke="#0035dd" stroke-width="2.5"/><polyline points="695.00,244.75 694.74,244.33 694.46,243.87 694.17,243.41 693.88,242.94 693.60,242.48 693.31,242.02 693.03,241.56 692.90,241.35 692.74,241.60 692.46,242.06 692.17,242.53 691.89,242.99 691.60,243.45 691.32,243.91 691.03,244.37 690.80,244.75" fill="none" stroke="#0035dd" stroke-width="2.5"/></g>
<polyline points="134.05,245.65 170.60,245.65 170.82,245.48 171.11,245.25 171.39,245.03 171.68,244.80 171.96,244.58 172.25,244.35 172.50,244.15 172.53,244.18 172.82,244.40 173.10,244.63 173.39,244.85 173.67,245.08 173.96,245.30 174.24,245.53 174.40,245.65 182.40,245.65 182.51,245.60 182.79,245.45 183.08,245.31 183.36,245.17 183.65,245.03 183.93,244.88 184.00,244.85 184.22,244.96 184.50,245.10 184.79,245.24 185.07,245.39 185.36,245.53 185.60,245.65 186.30,245.65 186.50,245.35 186.78,244.92 187.07,244.50 187.35,244.07 187.64,243.64 187.92,243.21 188.21,242.79 188.49,242.36 188.50,242.35 188.78,242.77 189.06,243.20 189.35,243.62 189.63,244.05 189.92,244.48 190.20,244.91 190.49,245.34 190.70,245.65 378.60,245.65 378.62,245.64 378.91,245.51 379.19,245.39 379.48,245.26 379.76,245.13 380.05,245.01 380.33,244.88 380.40,244.85 380.62,244.95 380.90,245.07 381.19,245.20 381.47,245.33 381.76,245.45 382.04,245.58 382.20,245.65 394.30,245.65 394.58,245.52 394.87,245.40 395.15,245.27 395.44,245.14 395.72,245.02 396.01,244.89 396.10,244.85 396.29,244.94 396.58,245.06 396.86,245.19 397.15,245.32 397.43,245.44 397.72,245.57 397.90,245.65 419.70,245.65 419.95,245.55 420.24,245.44 420.52,245.33 420.81,245.22 421.09,245.11 421.38,245.00 421.50,244.95 421.66,245.01 421.95,245.12 422.23,245.24 422.52,245.35 422.80,245.46 423.09,245.57 423.30,245.65 460.40,245.65 460.43,245.64 460.71,245.51 461.00,245.38 461.29,245.25 461.57,245.12 461.86,245.00 462.14,244.87 462.40,244.75 462.43,244.76 462.71,244.89 463.00,245.02 463.28,245.15 463.57,245.27 463.85,245.40 464.14,245.53 464.40,245.65 480.50,245.65 480.67,245.54 480.95,245.36 481.24,245.18 481.52,245.00 481.81,244.82 482.09,244.64 482.38,244.45 482.66,244.27 482.70,244.25 482.95,244.41 483.23,244.59 483.52,244.77 483.80,244.95 484.09,245.13 484.37,245.32 484.66,245.50 484.90,245.65 485.45,245.65 485.51,244.91 485.80,241.60 486.08,238.29 486.37,234.97 486.65,231.66 486.94,228.35 487.23,225.04 487.50,221.85 487.51,221.97 487.80,225.27 488.08,228.58 488.37,231.89 488.50,233.46 488.65,235.07 488.94,238.12 489.22,241.17 489.50,244.17 489.50,244.23 489.55,244.75 492.00,244.75 492.07,244.81 492.36,245.07 492.64,245.33 492.93,245.58 493.00,245.65 513.00,245.65 513.16,245.59 513.45,245.49 513.73,245.39 514.02,245.29 514.30,245.19 514.59,245.09 514.87,244.99 515.00,244.95 515.16,245.01 515.44,245.11 515.73,245.21 516.01,245.31 516.30,245.41 516.59,245.50 516.87,245.60 517.00,245.65 533.00,245.65 533.12,245.27 533.40,244.34 533.69,243.41 533.97,242.48 534.26,241.55 534.54,240.62 534.83,239.69 535.11,238.76 535.30,238.15 535.40,238.47 535.68,239.40 535.97,240.33 536.25,241.26 536.54,242.19 536.82,243.12 537.11,244.05 537.39,244.98 537.60,245.65 540.40,245.65 540.53,245.61 540.81,245.54 541.10,245.46 541.38,245.38 541.67,245.30 541.95,245.22 542.20,245.15 542.24,245.16 542.52,245.24 542.81,245.32 543.09,245.40 543.38,245.48 543.66,245.56 543.95,245.64 544.00,245.65 601.80,245.65 601.81,245.64 602.10,245.53 602.38,245.42 602.67,245.30 602.95,245.19 603.24,245.07 603.52,244.96 603.80,244.85 603.81,244.85 604.09,244.97 604.38,245.08 604.66,245.20 604.95,245.31 605.24,245.42 605.52,245.54 605.80,245.65 613.00,245.65 613.22,244.56 613.30,244.14 613.50,243.00 613.79,241.38 614.07,239.77 614.10,239.60 614.36,238.31 614.64,236.87 614.93,235.44 615.21,234.00 615.30,233.55 615.50,234.69 615.78,236.34 616.07,237.99 616.30,239.35 616.35,239.57 616.64,240.79 616.92,242.00 617.21,243.22 617.30,243.61 617.49,243.32 617.60,243.15 617.78,243.42 618.00,243.77 618.06,243.81 618.35,243.99 618.63,244.17 618.90,244.34 618.92,244.33 619.20,244.07 619.49,243.82 619.77,243.56 619.90,243.45 620.06,243.59 620.34,243.85 620.63,244.10 620.91,244.36 621.20,244.61 621.48,244.87 621.50,244.88 621.77,245.29 621.80,245.34 622.05,245.50 622.30,245.65 631.60,245.65 631.74,245.53 632.03,245.31 632.31,245.08 632.60,244.85 632.60,244.85 635.80,244.85 636.02,244.09 636.30,243.11 636.59,242.12 636.80,241.40 636.88,241.20 637.16,240.44 637.45,239.68 637.73,238.93 637.80,238.74 638.00,238.05 638.01,238.10 638.30,239.09 638.59,240.07 638.87,241.06 639.15,242.04 639.20,242.20 639.44,242.89 639.73,243.71 640.01,244.54 640.20,245.09 640.30,245.03 640.58,244.87 640.80,244.75 640.87,244.79 641.15,244.95 641.44,245.11 641.72,245.27 642.01,245.43 642.29,245.59 642.40,245.65 653.90,245.65 653.95,242.11 653.98,240.13 654.26,219.94 654.55,196.71 654.60,192.45 654.83,173.39 655.12,150.06 655.40,126.74 655.60,110.61 655.69,103.41 655.97,80.09 656.26,56.76 656.30,53.33 656.45,41.05 656.54,48.66 656.83,71.99 657.11,95.31 657.40,118.63 657.68,141.96 657.80,151.53 657.97,165.28 658.20,184.27 658.25,188.69 658.54,212.01 658.82,235.34 658.95,245.53 659.11,245.60 659.20,245.65 661.50,245.65 661.67,245.58 661.96,245.47 662.24,245.35 662.53,245.24 662.81,245.12 663.00,245.05 663.10,245.09 663.38,245.20 663.67,245.32 663.96,245.43 664.24,245.55 664.50,245.65 686.30,245.65 686.47,245.43 686.50,245.39 686.76,244.83 687.04,244.21 687.33,243.58 687.50,243.21 687.61,243.06 687.90,242.69 688.18,242.33 688.40,242.05 688.47,242.14 688.75,242.51 689.04,242.87 689.32,243.24 689.61,243.60 689.89,243.97 690.18,244.34 690.46,244.70 690.50,244.75 690.80,244.75 691.03,244.22 691.32,243.56 691.60,242.91 691.89,242.26 692.17,241.61 692.46,240.96 692.74,240.31 692.90,239.95 693.03,240.24 693.31,240.90 693.60,241.55 693.88,242.20 694.17,242.85 694.46,243.50 694.74,244.16 695.00,244.75 696.45,244.75" fill="none" stroke="#000" stroke-width="2.15" stroke-linejoin="round" stroke-linecap="square"/></g>
<rect x="105.5" y="30.5" width="620.00" height="225.00" fill="none" stroke="#000" stroke-width="1.11"/>
<line x1="100.64" x2="105.5" y1="245.50" y2="245.50" stroke="#000" stroke-width="1.11"/>
<text x="64.9" y="250.80" font-size="13.89" letter-spacing="-0.28">0.00</text>
<line x1="100.64" x2="105.5" y1="196.50" y2="196.50" stroke="#000" stroke-width="1.11"/>
<text x="64.9" y="200.80" font-size="13.89" letter-spacing="-0.28">0.01</text>
<line x1="100.64" x2="105.5" y1="147.50" y2="147.50" stroke="#000" stroke-width="1.11"/>
<text x="64.9" y="151.80" font-size="13.89" letter-spacing="-0.28">0.02</text>
<line x1="100.64" x2="105.5" y1="98.50" y2="98.50" stroke="#000" stroke-width="1.11"/>
<text x="64.9" y="102.80" font-size="13.89" letter-spacing="-0.28">0.03</text>
<line x1="100.64" x2="105.5" y1="49.50" y2="49.50" stroke="#000" stroke-width="1.11"/>
<text x="64.9" y="53.80" font-size="13.89" letter-spacing="-0.28">0.04</text>
<line x1="152.50" x2="152.50" y1="255.5" y2="260.36" stroke="#000" stroke-width="1.11"/>
<text transform="translate(150.24,274.80) rotate(-30)" font-size="13.89" text-anchor="end">02-Jan-2024</text>
<line x1="206.50" x2="206.50" y1="255.5" y2="260.36" stroke="#000" stroke-width="1.11"/>
<text transform="translate(204.96,274.80) rotate(-30)" font-size="13.89" text-anchor="end">05-Jan-2024</text>
<line x1="261.50" x2="261.50" y1="255.5" y2="260.36" stroke="#000" stroke-width="1.11"/>
<text transform="translate(259.68,274.80) rotate(-30)" font-size="13.89" text-anchor="end">08-Jan-2024</text>
<line x1="316.50" x2="316.50" y1="255.5" y2="260.36" stroke="#000" stroke-width="1.11"/>
<text transform="translate(314.40,274.80) rotate(-30)" font-size="13.89" text-anchor="end">11-Jan-2024</text>
<line x1="371.50" x2="371.50" y1="255.5" y2="260.36" stroke="#000" stroke-width="1.11"/>
<text transform="translate(369.12,274.80) rotate(-30)" font-size="13.89" text-anchor="end">14-Jan-2024</text>
<line x1="425.50" x2="425.50" y1="255.5" y2="260.36" stroke="#000" stroke-width="1.11"/>
<text transform="translate(423.84,274.80) rotate(-30)" font-size="13.89" text-anchor="end">17-Jan-2024</text>
<line x1="480.50" x2="480.50" y1="255.5" y2="260.36" stroke="#000" stroke-width="1.11"/>
<text transform="translate(478.56,274.80) rotate(-30)" font-size="13.89" text-anchor="end">20-Jan-2024</text>
<line x1="535.50" x2="535.50" y1="255.5" y2="260.36" stroke="#000" stroke-width="1.11"/>
<text transform="translate(533.28,274.80) rotate(-30)" font-size="13.89" text-anchor="end">23-Jan-2024</text>
<line x1="590.50" x2="590.50" y1="255.5" y2="260.36" stroke="#000" stroke-width="1.11"/>
<text transform="translate(588.00,274.80) rotate(-30)" font-size="13.89" text-anchor="end">26-Jan-2024</text>
<line x1="644.50" x2="644.50" y1="255.5" y2="260.36" stroke="#000" stroke-width="1.11"/>
<text transform="translate(642.72,274.80) rotate(-30)" font-size="13.89" text-anchor="end">29-Jan-2024</text>
<line x1="699.50" x2="699.50" y1="255.5" y2="260.36" stroke="#000" stroke-width="1.11"/>
<text transform="translate(697.44,274.80) rotate(-30)" font-size="13.89" text-anchor="end">01-Feb-2024</text>
<rect x="105.00" y="345.5" width="62.30" height="47.00" fill="#cccccc"/>
<rect x="167.00" y="345.5" width="62.30" height="47.00" fill="#e50000"/>
<rect x="229.00" y="345.5" width="62.30" height="47.00" fill="#ffb000"/>
<rect x="291.00" y="345.5" width="62.30" height="47.00" fill="#ccf900"/>
<rect x="353.00" y="345.5" width="62.30" height="47.00" fill="#00e100"/>
<rect x="415.00" y="345.5" width="62.30" height="47.00" fill="#009b0f"/>
<rect x="477.00" y="345.5" width="62.30" height="47.00" fill="#00a4bb"/>
<rect x="539.00" y="345.5" width="62.30" height="47.00" fill="#0035dd"/>
<rect x="601.00" y="345.5" width="62.30" height="47.00" fill="#6a009d"/>
<rect x="663.00" y="345.5" width="62.50" height="47.00" fill="#000000"/>
<rect x="105.5" y="345.5" width="620.00" height="47.00" fill="none" stroke="#000" stroke-width="1.11"/>
<text x="136.05" y="371.7" font-size="13.89" text-anchor="middle" letter-spacing="-0.45" fill="#000">OCE</text>
<text x="198.05" y="371.7" font-size="13.89" text-anchor="middle" letter-spacing="-0.45" fill="#000">GNL</text>
<text x="260.05" y="371.7" font-size="13.89" text-anchor="middle" letter-spacing="-0.45" fill="#000">SA</text>
<text x="322.05" y="371.7" font-size="13.89" text-anchor="middle" letter-spacing="-0.45" fill="#000">CA</text>
<text x="384.05" y="371.7" font-size="13.89" text-anchor="middle" letter-spacing="-0.45" fill="#000">NA</text>
<text x="446.05" y="371.7" font-size="13.89" text-anchor="middle" letter-spacing="-0.45" fill="#000">AFR</text>
<text x="508.05" y="371.7" font-size="13.89" text-anchor="middle" letter-spacing="-0.45" fill="#000">EUR</text>
<text x="570.05" y="371.7" font-size="13.89" text-anchor="middle" letter-spacing="-0.45" fill="#000">RUS</text>
<text x="632.05" y="371.7" font-size="13.89" text-anchor="middle" letter-spacing="-0.45" fill="#000">ASI</text>
<text x="694.05" y="371.7" font-size="13.89" text-anchor="middle" letter-spacing="-0.45" fill="#fff">AUS</text>
<line x1="105.50" x2="105.50" y1="392.5" y2="397.36" stroke="#000" stroke-width="1.11"/>
<line x1="229.50" x2="229.50" y1="392.5" y2="397.36" stroke="#000" stroke-width="1.11"/>
<line x1="353.50" x2="353.50" y1="392.5" y2="397.36" stroke="#000" stroke-width="1.11"/>
<line x1="477.50" x2="477.50" y1="392.5" y2="397.36" stroke="#000" stroke-width="1.11"/>
<line x1="601.50" x2="601.50" y1="392.5" y2="397.36" stroke="#000" stroke-width="1.11"/>
<line x1="725.50" x2="725.50" y1="392.5" y2="397.36" stroke="#000" stroke-width="1.11"/>
</g></svg>
</body></html>
